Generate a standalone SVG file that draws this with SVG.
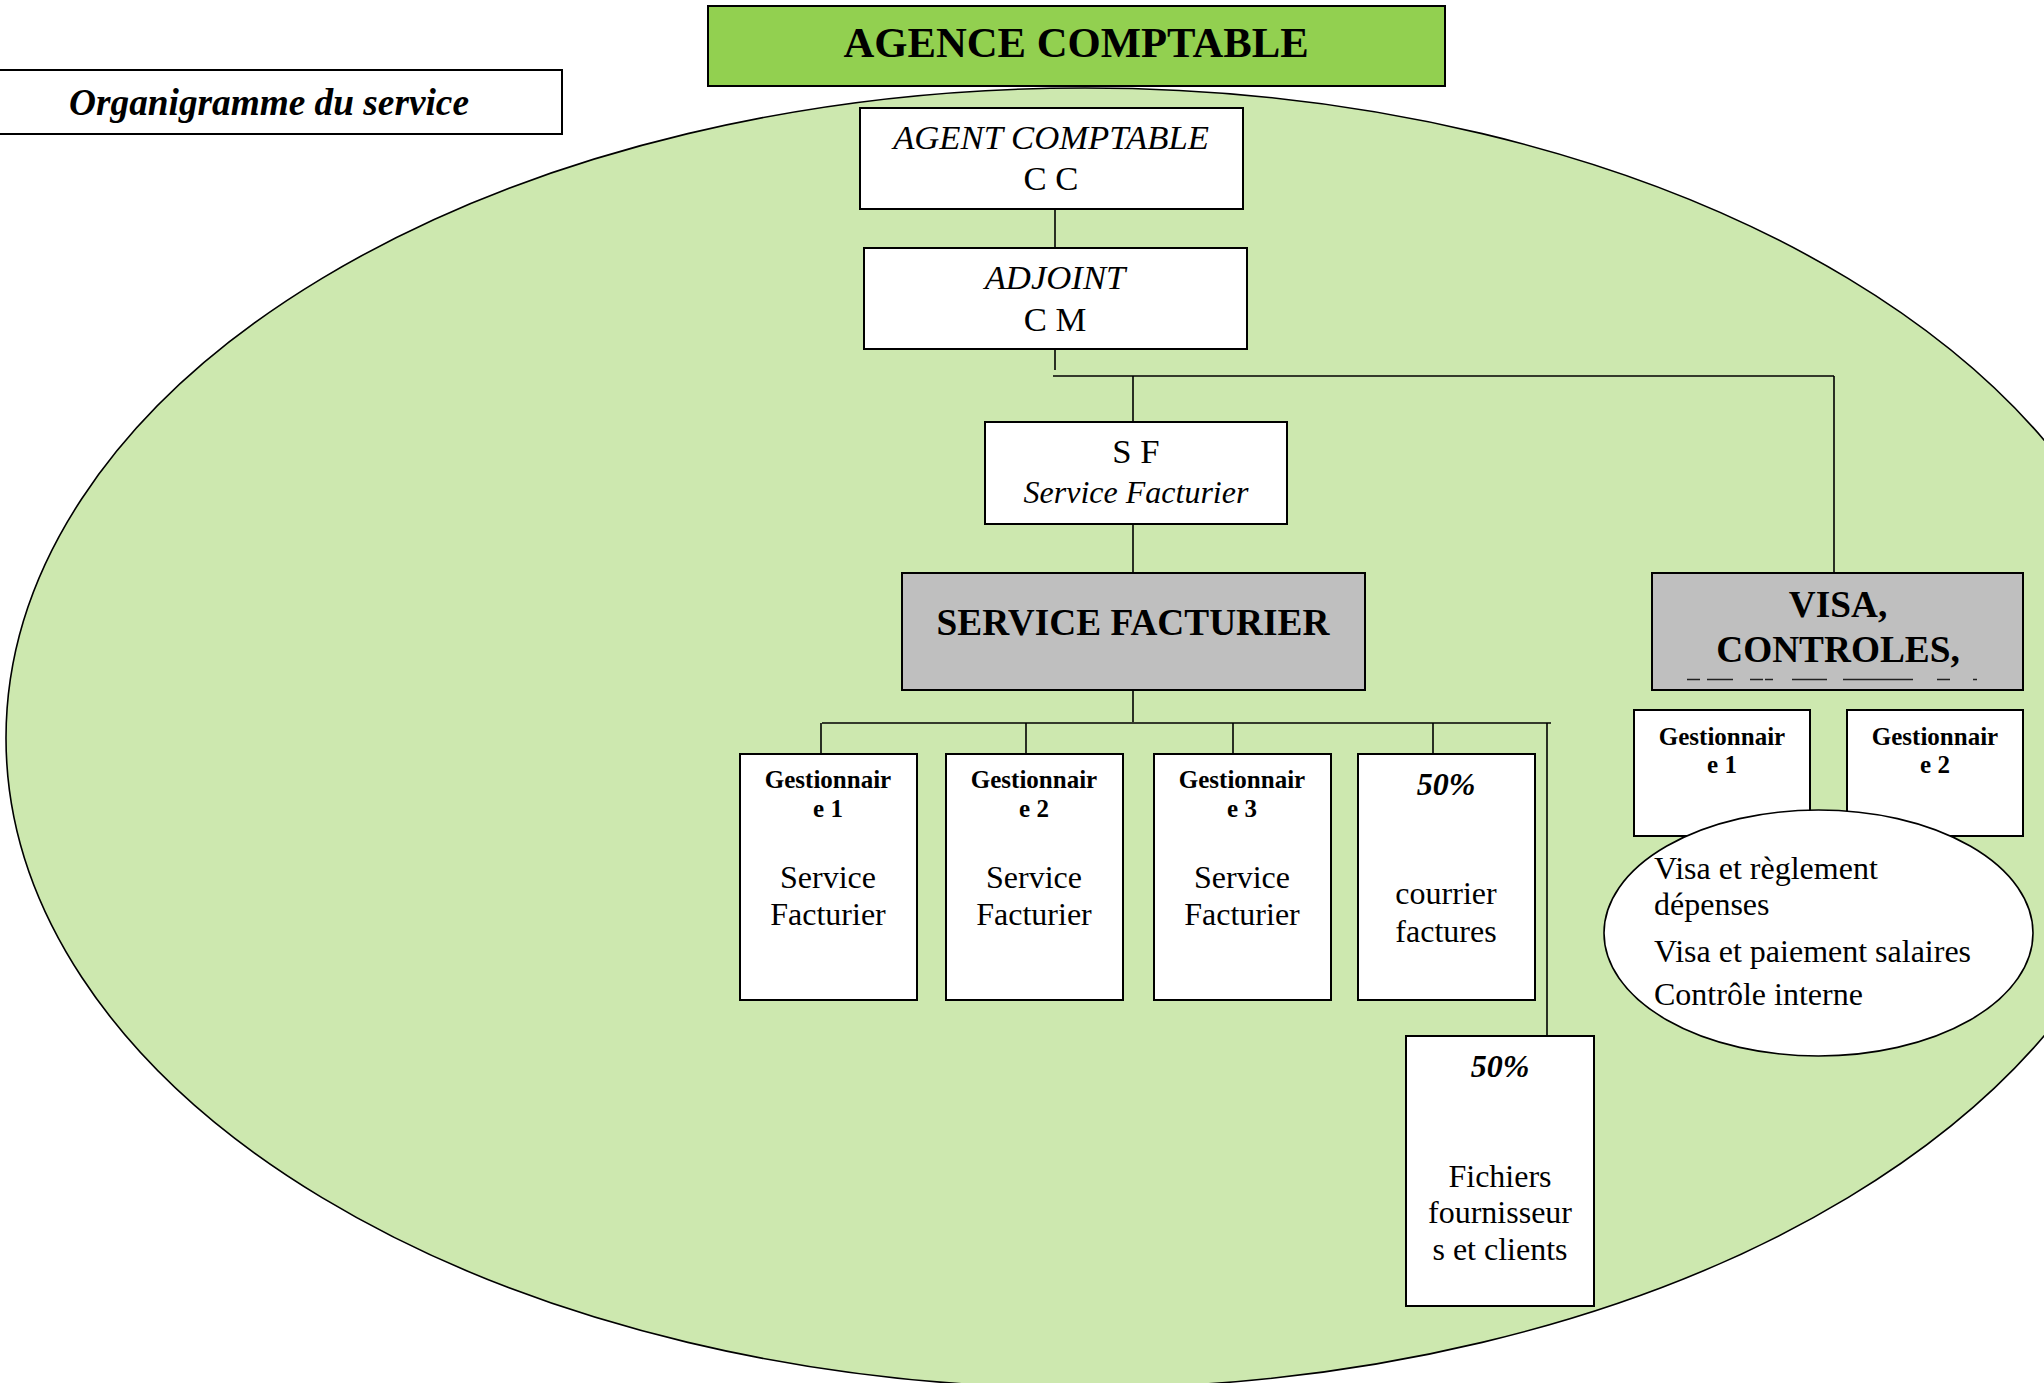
<svg xmlns="http://www.w3.org/2000/svg" width="2044" height="1383" viewBox="0 0 2044 1383">
<style>
  text { font-family: "Liberation Serif", "Times New Roman", serif; fill: #000; }
  .box { fill: #ffffff; stroke: #000; stroke-width: 2; }
  .gray { fill: #BFBFBF; stroke: #000; stroke-width: 2; }
  .green { fill: #92D050; stroke: #000; stroke-width: 2; }
  .conn { stroke: #000; stroke-width: 1.6; fill: none; }
  .b { font-weight: bold; }
  .i { font-style: italic; }
  .m { text-anchor: middle; }
  .s32 { font-size: 32px; }
  .s25 { font-size: 25px; }
  .s34 { font-size: 34.7px; }
  .s37 { font-size: 37.3px; }
</style>
<rect x="0" y="0" width="2044" height="1383" fill="#ffffff"/>

<g id="container-ellipse">
  <ellipse cx="1085" cy="738" rx="1079" ry="650" fill="#CDE8AF" stroke="#000" stroke-width="1.6"/>
</g>

<g id="agence-comptable">
  <rect class="green" x="708" y="6" width="737" height="80"/>
  <text class="b m" x="1076" y="57" font-size="42.7">AGENCE COMPTABLE</text>
</g>

<g id="organigramme-title">
  <rect class="box" x="-3" y="70" width="565" height="64"/>
  <text class="b i m s37" x="269" y="115">Organigramme du service</text>
</g>

<g id="connectors">
  <path class="conn" d="M1055 201 V248"/>
  <path class="conn" d="M1055 350 V370"/>
  <path class="conn" d="M1053 376 H1834"/>
  <path class="conn" d="M1133 376 V422"/>
  <path class="conn" d="M1834 376 V573"/>
  <path class="conn" d="M1133 524 V573"/>
  <path class="conn" d="M1133 690 V722"/>
  <path class="conn" d="M822 723 H1551"/>
  <path class="conn" d="M821 723 V754"/>
  <path class="conn" d="M1026 723 V754"/>
  <path class="conn" d="M1233 723 V754"/>
  <path class="conn" d="M1433 723 V754"/>
  <path class="conn" d="M1547 723 V1036"/>
</g>

<g id="agent-comptable">
  <rect class="box" x="860" y="108" width="383" height="101"/>
  <text class="i m s34" x="1051" y="149">AGENT COMPTABLE</text>
  <text class="m s34" x="1051" y="190">C C</text>
</g>

<g id="adjoint">
  <rect class="box" x="864" y="248" width="383" height="101"/>
  <text class="i m s34" x="1055" y="289">ADJOINT</text>
  <text class="m s34" x="1055" y="331">C M</text>
</g>

<g id="sf">
  <rect class="box" x="985" y="422" width="302" height="102"/>
  <text class="m s34" x="1136" y="463">S F</text>
  <text class="i m s32" x="1136" y="503">Service Facturier</text>
</g>

<g id="service-facturier">
  <rect class="gray" x="902" y="573" width="463" height="117"/>
  <text class="b m s37" x="1133" y="635">SERVICE FACTURIER</text>
</g>

<g id="sf-gestionnaire-1">
  <rect class="box" x="740" y="754" width="177" height="246"/>
  <text class="b m s25" x="828" y="788">Gestionnair</text>
  <text class="b m s25" x="828" y="817">e 1</text>
  <text class="m s32" x="828" y="888">Service</text>
  <text class="m s32" x="828" y="925">Facturier</text>
</g>

<g id="sf-gestionnaire-2">
  <rect class="box" x="946" y="754" width="177" height="246"/>
  <text class="b m s25" x="1034" y="788">Gestionnair</text>
  <text class="b m s25" x="1034" y="817">e 2</text>
  <text class="m s32" x="1034" y="888">Service</text>
  <text class="m s32" x="1034" y="925">Facturier</text>
</g>

<g id="sf-gestionnaire-3">
  <rect class="box" x="1154" y="754" width="177" height="246"/>
  <text class="b m s25" x="1242" y="788">Gestionnair</text>
  <text class="b m s25" x="1242" y="817">e 3</text>
  <text class="m s32" x="1242" y="888">Service</text>
  <text class="m s32" x="1242" y="925">Facturier</text>
</g>

<g id="courrier-factures">
  <rect class="box" x="1358" y="754" width="177" height="246"/>
  <text class="b i m s32" x="1446" y="795">50%</text>
  <text class="m s32" x="1446" y="904">courrier</text>
  <text class="m s32" x="1446" y="942">factures</text>
</g>

<g id="fichiers">
  <rect class="box" x="1406" y="1036" width="188" height="270"/>
  <text class="b i m s32" x="1500" y="1077">50%</text>
  <text class="m s32" x="1500" y="1187">Fichiers</text>
  <text class="m s32" x="1500" y="1223">fournisseur</text>
  <text class="m s32" x="1500" y="1260">s et clients</text>
</g>

<g id="visa-controles">
  <rect class="gray" x="1652" y="573" width="371" height="117"/>
  <text class="b m s37" x="1838" y="617">VISA,</text>
  <text class="b m s37" x="1838" y="662">CONTROLES,</text>
  <path d="M1687 679.5 H1700 M1707 679.5 H1733 M1750 679.5 H1763 M1765 679.5 H1773 M1792 679.5 H1827 M1843 679.5 H1913 M1937 679.5 H1950 M1973 679.5 H1977" stroke="#222" stroke-width="1.5" fill="none"/>
</g>

<g id="visa-gestionnaire-1">
  <rect class="box" x="1634" y="710" width="176" height="126"/>
  <text class="b m s25" x="1722" y="745">Gestionnair</text>
  <text class="b m s25" x="1722" y="773">e 1</text>
</g>

<g id="visa-gestionnaire-2">
  <rect class="box" x="1847" y="710" width="176" height="126"/>
  <text class="b m s25" x="1935" y="745">Gestionnair</text>
  <text class="b m s25" x="1935" y="773">e 2</text>
</g>

<g id="visa-taches">
  <ellipse cx="1818.5" cy="933" rx="214.5" ry="123" fill="#ffffff" stroke="#000" stroke-width="1.6"/>
  <text class="s32" x="1654" y="879">Visa et règlement</text>
  <text class="s32" x="1654" y="915">dépenses</text>
  <text class="s32" x="1654" y="962">Visa et paiement salaires</text>
  <text class="s32" x="1654" y="1005">Contrôle interne</text>
</g>
</svg>
